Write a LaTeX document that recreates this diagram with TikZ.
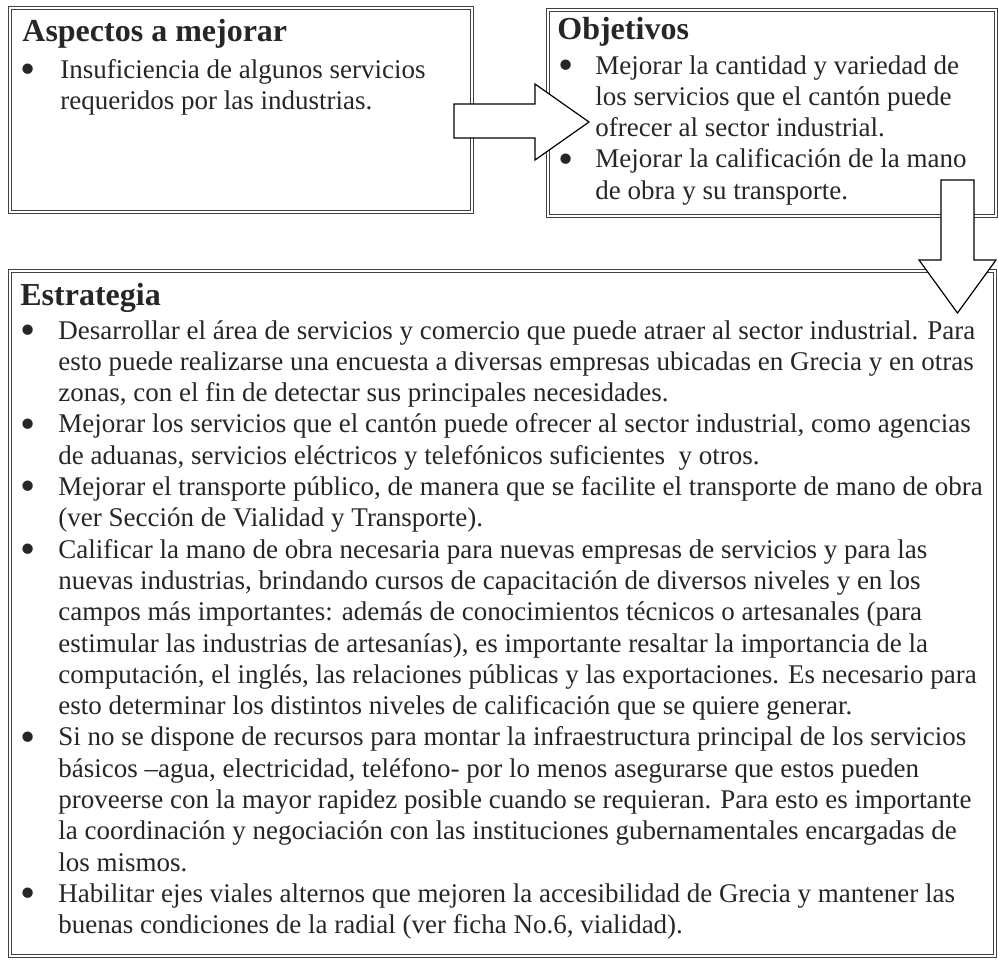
\documentclass[tikz,border=0pt]{standalone}
\usepackage{fontspec}
\setmainfont{Liberation Serif}
\usepackage{graphicx}
\usepackage{tikz}
\usetikzlibrary{positioning}
\tikzset{
    %Define style for boxes
    caja/.style={
           draw=black!75,
           line width=0.55pt,
           double=white,
           double distance=0.9pt},
    %Define style for headings
    titulo/.style={
           anchor=base west,
           inner sep=0pt,
           text=black!85,
           font=\fontsize{16}{18}\selectfont\bfseries},
    %Define style for bullet lists
    texto/.style={
           anchor=base west,
           inner sep=0pt,
           text=black!85,
           font=\fontsize{13.5}{15.65}\selectfont},
    % Define block arrow style
    flecha/.style={
           draw=black,
           line width=0.6pt,
           fill=white,
           line join=miter}
}
\newcommand{\vineta}{\raisebox{-0.2em}{\scalebox{1.6}{\textbullet}}}

\begin{document}
\begin{tikzpicture}[x=0.5pt,y=-0.5pt]
\useasboundingbox (0,0) rectangle (998,960);

 %boxes
\draw[caja] (10,8) rectangle (472,212);
\draw[caja] (548,10) rectangle (996,216);
\draw[caja] (10,271) rectangle (995,956);

 %headings
\node[titulo] (aspectos) at (22,41) {Aspectos a mejorar};
\node[titulo] (objetivos) at (557,39) {Objetivos};
\node[titulo] (estrategia) at (20,305) {Estrategia};

 %texts
\node[texto] (aspT) at (20,78) {%
\begin{tabular}[t]{@{}p{20pt}@{}l@{}}
\vineta & Insuficiencia de algunos servicios\\
 & requeridos por las industrias.
\end{tabular}};

\node[texto] (objT) at (558,74) {%
\begin{tabular}[t]{@{}p{18.5pt}@{}l@{}}
\vineta & Mejorar la cantidad y variedad de\\
 & los servicios que el cantón puede\\
 & ofrecer al sector industrial.\\
\vineta & Mejorar la calificación de la mano\\
 & de obra y su transporte.
\end{tabular}};

\node[texto] (estT) at (20,339) {%
\begin{tabular}[t]{@{}p{19pt}@{}l@{}}
\vineta & Desarrollar el área de servicios y comercio que puede atraer al sector industrial. Para\\
 & esto puede realizarse una encuesta a diversas empresas ubicadas en Grecia y en otras\\
 & zonas, con el fin de detectar sus principales necesidades.\\
\vineta & Mejorar los servicios que el cantón puede ofrecer al sector industrial, como agencias\\
 & de aduanas, servicios eléctricos y telefónicos suficientes \ y otros.\\
\vineta & Mejorar el transporte público, de manera que se facilite el transporte de mano de obra\\
 & (ver Sección de Vialidad y Transporte).\\
\vineta & Calificar la mano de obra necesaria para nuevas empresas de servicios y para las\\
 & nuevas industrias, brindando cursos de capacitación de diversos niveles y en los\\
 & campos más importantes: además de conocimientos técnicos o artesanales (para\\
 & estimular las industrias de artesanías), es importante resaltar la importancia de la\\
 & computación, el inglés, las relaciones públicas y las exportaciones. Es necesario para\\
 & esto determinar los distintos niveles de calificación que se quiere generar.\\
\vineta & Si no se dispone de recursos para montar la infraestructura principal de los servicios\\
 & básicos –agua, electricidad, teléfono- por lo menos asegurarse que estos pueden\\
 & proveerse con la mayor rapidez posible cuando se requieran. Para esto es importante\\
 & la coordinación y negociación con las instituciones gubernamentales encargadas de\\
 & los mismos.\\
\vineta & Habilitar ejes viales alternos que mejoren la accesibilidad de Grecia y mantener las\\
 & buenas condiciones de la radial (ver ficha No.6, vialidad).
\end{tabular}};

 %block arrows
\draw[flecha] (454,104) -- (535,104) -- (535,84) -- (589,122)
   -- (535,160) -- (535,138) -- (454,138) -- cycle;
\draw[flecha] (941,180) -- (974,180) -- (974,260) -- (996,260)
   -- (957.5,313) -- (919,260) -- (941,260) -- cycle;
\end{tikzpicture}
\end{document}
